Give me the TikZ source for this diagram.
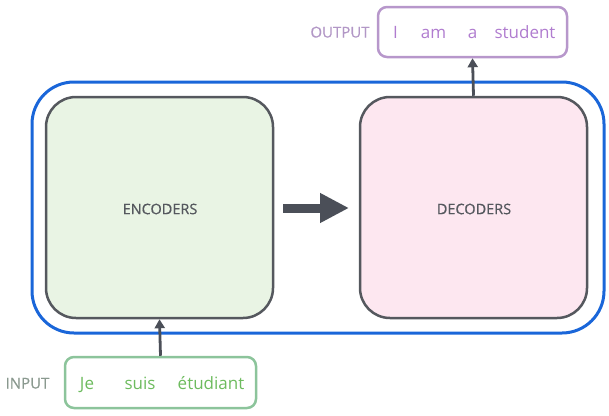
\documentclass[tikz,border=0pt]{standalone}
\usepackage{fontspec}
\setmainfont{Open Sans}
\newfontfamily\medfont[FakeBold=0.5]{Open Sans}
\usetikzlibrary{arrows.meta}
\definecolor{outerblue}{HTML}{1A66D9}
\definecolor{boxgray}{HTML}{55585E}
\definecolor{encfill}{HTML}{E9F4E4}
\definecolor{decfill}{HTML}{FDE7F0}
\definecolor{ingreen}{HTML}{8CC49B}
\definecolor{intext}{HTML}{6DBB5E}
\definecolor{inlabel}{HTML}{8A998F}
\definecolor{outpurple}{HTML}{B797CB}
\definecolor{outtext}{HTML}{B07CCF}
\definecolor{outlabel}{HTML}{B297C6}
\definecolor{arrowgray}{HTML}{4B4F58}
\begin{document}
\begin{tikzpicture}[x=1pt,y=-1pt,
  stackbox/.style={draw=boxgray,line width=2.5pt,rounded corners=30pt,minimum width=227pt,minimum height=221pt,inner sep=0pt},
  stacklabel/.style={font=\medfont\fontsize{14.5}{14.5}\selectfont,text=boxgray},
  wordbox/.style={line width=2.5pt,rounded corners=9pt,inner sep=0pt},
  word/.style={font=\fontsize{17}{17}\selectfont,anchor=base},
  sidelabel/.style={font=\medfont\fontsize{15}{15}\selectfont,anchor=base},
  feed/.style={draw=arrowgray,line width=2.8pt,-{Triangle[length=9pt,width=10pt]}}]
\useasboundingbox (0,0) rectangle (609,415);
% outer box
\node[draw=outerblue,line width=3pt,rounded corners=42pt,minimum width=572pt,minimum height=251pt,inner sep=0pt] (outer) at (318,207.5) {};
% encoder / decoder
\node[stackbox,fill=encfill] (enc) at (159.5,207.5) {};
\node[stackbox,fill=decfill] (dec) at (473.5,207.5) {};
\node[stacklabel] (enclab) at (160,209) {ENCODERS};
\node[stacklabel] (declab) at (474,209) {DECODERS};
% middle arrow
\coordinate (mA) at (283,208);
\coordinate (mB) at (349,208);
\draw[draw=arrowgray,line width=9pt,-{Triangle[length=29pt,width=28pt]}] (mA) -- (mB);
% input
\node[wordbox,draw=ingreen,minimum width=191pt,minimum height=51pt] (inbox) at (160.5,382.5) {};
\node[word,text=intext] (w1) at (87,389) {Je};
\node[word,text=intext] (w2) at (140,389) {suis};
\node[word,text=intext] (w3) at (211,389) {étudiant};
\node[sidelabel,text=inlabel] (inlab) at (27.5,388.5) {INPUT};
% output
\node[wordbox,draw=outpurple,minimum width=189pt,minimum height=50pt] (outbox) at (472.5,32) {};
\node[word,text=outtext] (o1) at (395.5,38) {I};
\node[word,text=outtext] (o2) at (433.5,38) {am};
\node[word,text=outtext] (o3) at (472.5,38) {a};
\node[word,text=outtext] (o4) at (525,38) {student};
\node[sidelabel,text=outlabel] (outlab) at (340,37.5) {OUTPUT};
% feed arrows
\draw[feed] (inbox.north) -- (enc.south);
\draw[feed] (dec.north) -- (outbox.south);
\end{tikzpicture}
\end{document}
